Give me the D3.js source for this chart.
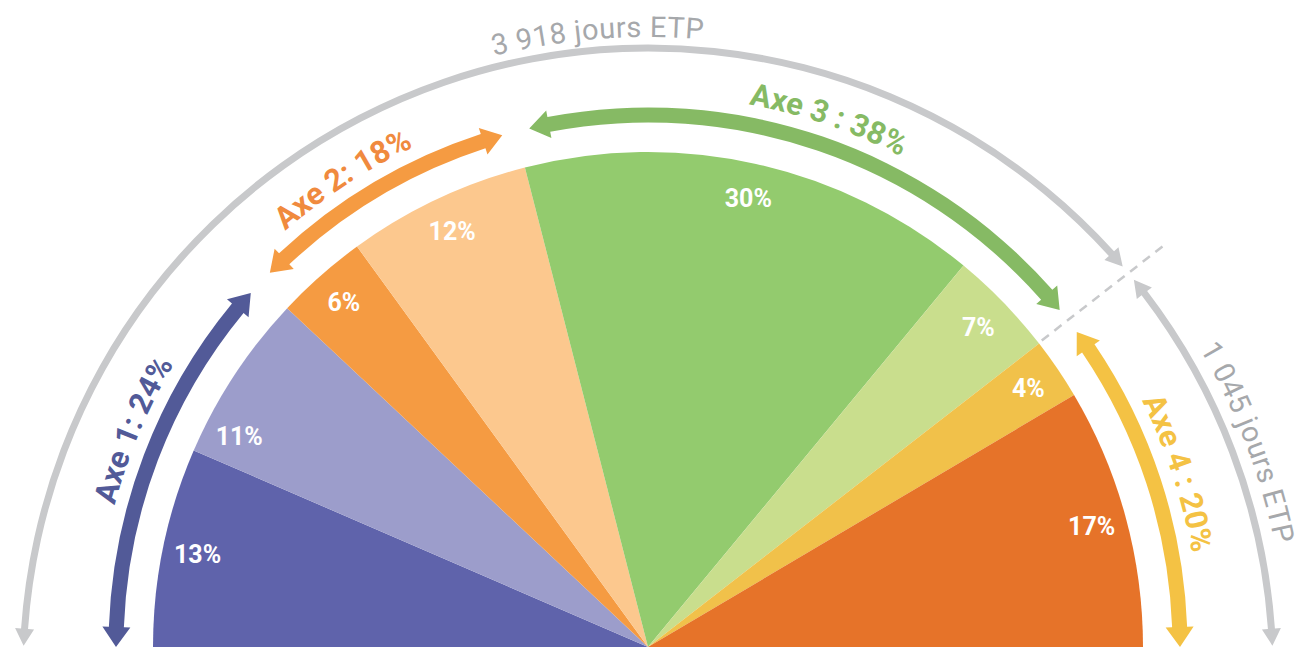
<!DOCTYPE html>
<html>
<head>
<meta charset="utf-8">
<script src="https://cdn.jsdelivr.net/npm/d3@7"></script>
<style>
  body { margin: 0; background: #fff; }
  svg { display: block; font-family: "Roboto", "DejaVu Sans", sans-serif; }
</style>
</head>
<body>
<div id="main"></div>
<script>
const ctx = { w: 1306, h: 648 };

// parts of the half pie (%)
const sliceValues = [13, 11, 6, 12, 30, 7, 4, 17];
const sliceLabels = ["13%", "11%", "6%", "12%", "30%", "7%", "4%", "17%"];
const sliceColors = ["#5f63ab", "#9c9dcb", "#f59b42", "#fcc88e", "#93cb6e", "#c9de8d", "#f1c14a", "#e67329"];

// axes : how many slices each one groups
const axeSlices = [2, 2, 2, 2];
const axeLabels = ["Axe 1: 24%", "Axe 2: 18%", "Axe 3 : 38%", "Axe 4 : 20%"];
const axeColors = ["#525a98", "#f59b42", "#86ba64", "#f4c244"];
const axeTextColors = ["#525a98", "#f08a3e", "#86ba64", "#f4c244"];

// outer grey arcs
const etpDays = [3918, 1045];
const etpLabels = ["3 918 jours ETP", "1 045 jours ETP"];

const deg = Math.PI / 180;
const center = { x: 648, y: 647 };
const greyCenter = { x: 648, y: 673 };
const rPie = 495, rAxe = 532, rGrey = 625;

// small hand placed shifts of some labels (degrees)
const sliceLabelShift = { 1: -6 };
const axeLabelShift = { 0: 2, 1: -2.5 };

function polar(c, r, a) {
    return [c.x + r * Math.sin(a), c.y - r * Math.cos(a)];
}

// arc band with arrow heads at both ends (a0 < a1, angles 0 = top, clockwise)
function arrowPath(c, r, a0, a1, w, headW, headL) {
    const b0 = a0 + headL / r, b1 = a1 - headL / r;
    const p = d3.path();
    const o0 = polar(c, r + w / 2, b0);
    p.moveTo(o0[0], o0[1]);
    p.arc(c.x, c.y, r + w / 2, b0 - Math.PI / 2, b1 - Math.PI / 2);
    [polar(c, r + headW / 2, b1), polar(c, r, a1), polar(c, r - headW / 2, b1), polar(c, r - w / 2, b1)]
        .forEach(q => p.lineTo(q[0], q[1]));
    p.arc(c.x, c.y, r - w / 2, b1 - Math.PI / 2, b0 - Math.PI / 2, true);
    [polar(c, r - headW / 2, b0), polar(c, r, a0), polar(c, r + headW / 2, b0)]
        .forEach(q => p.lineTo(q[0], q[1]));
    p.closePath();
    return p.toString();
}

// clockwise circle arc used as text path
function textArc(c, r, mid, span) {
    const p = d3.path();
    const s = polar(c, r, mid - span);
    p.moveTo(s[0], s[1]);
    p.arc(c.x, c.y, r, mid - span - Math.PI / 2, mid + span - Math.PI / 2);
    return p.toString();
}

function createViz() {
    const svgEl = d3.select("#main").append("svg")
        .attr("width", ctx.w)
        .attr("height", ctx.h);
    const defs = svgEl.append("defs");

    const total = d3.sum(sliceValues);
    const angle = d3.scaleLinear().domain([0, total]).range([-Math.PI / 2, Math.PI / 2]);

    // half pie
    const pie = d3.pie().sort(null).startAngle(-Math.PI / 2).endAngle(Math.PI / 2);
    const arc = d3.arc().innerRadius(0).outerRadius(rPie);
    const arcs = pie(sliceValues);
    const midAngle = (d, i) => (d.startAngle + d.endAngle) / 2 + (sliceLabelShift[i] || 0) * deg;
    const gPie = svgEl.append("g").attr("transform", `translate(${center.x},${center.y})`);
    gPie.selectAll("path")
        .data(arcs)
        .enter().append("path")
        .attr("d", arc)
        .attr("fill", (d, i) => sliceColors[i]);
    gPie.selectAll("text")
        .data(arcs)
        .enter().append("text")
        .attr("x", (d, i) => 460 * Math.sin(midAngle(d, i)))
        .attr("y", (d, i) => -460 * Math.cos(midAngle(d, i)))
        .attr("text-anchor", "middle")
        .attr("dy", "0.36em")
        .style("font-size", "25px")
        .style("font-weight", 700)
        .style("fill", "#fff")
        .text((d, i) => sliceLabels[i]);

    // axes arrows
    const gap = 1.5 * deg;
    let cum = 0, idx = 0;
    const axes = axeSlices.map((n, i) => {
        const v0 = cum;
        cum += d3.sum(sliceValues.slice(idx, idx + n));
        idx += n;
        const a0 = i === 0 ? angle(v0) : angle(v0) + gap;
        const a1 = i === axeSlices.length - 1 ? angle(cum) : angle(cum) - gap;
        return { a0, a1, label: axeLabels[i], color: axeColors[i], textColor: axeTextColors[i] };
    });

    svgEl.append("g").selectAll("path")
        .data(axes)
        .enter().append("path")
        .attr("d", d => arrowPath(center, rAxe, d.a0, d.a1, 15, 28, 20))
        .attr("fill", d => d.color);

    axes.forEach((d, i) => {
        const mid = (d.a0 + d.a1) / 2 + (axeLabelShift[i] || 0) * deg;
        defs.append("path")
            .attr("id", "axePath" + i)
            .attr("d", textArc(center, 552, mid, 60 * deg));
    });
    svgEl.append("g").selectAll("text")
        .data(axes)
        .enter().append("text")
        .style("font-size", "31px")
        .style("font-weight", 700)
        .style("fill", d => d.textColor)
        .append("textPath")
        .attr("href", (d, i) => "#axePath" + i)
        .attr("startOffset", "50%")
        .attr("text-anchor", "middle")
        .text(d => d.label);

    // split between the two grey arcs, on the pie's radius
    const etpAngle = d3.scaleLinear().domain([0, d3.sum(etpDays)]).range([-Math.PI / 2, Math.PI / 2]);
    const split = etpAngle(etpDays[0]);
    const dy = center.y - greyCenter.y;
    const t = dy * Math.cos(split) + Math.sqrt(dy * dy * Math.cos(split) ** 2 - dy * dy + rGrey * rGrey);
    const sp = polar(center, t, split);
    const greySplit = Math.atan2(sp[0] - greyCenter.x, greyCenter.y - sp[1]);

    const grey = [
        { a0: -87.5 * deg, a1: greySplit - 0.8 * deg, label: etpLabels[0], textAngle: -4.5 * deg, r: 636 },
        { a0: greySplit + 0.8 * deg, a1: 87.5 * deg, label: etpLabels[1], textAngle: 69 * deg, r: 640 }
    ];
    svgEl.append("g").selectAll("path")
        .data(grey)
        .enter().append("path")
        .attr("d", d => arrowPath(greyCenter, rGrey, d.a0, d.a1, 7, 19, 17))
        .attr("fill", "#c8c9cb");

    // dashed separator
    const d0 = polar(center, 499, split), d1 = polar(center, 652, split);
    svgEl.append("line")
        .attr("x1", d0[0]).attr("y1", d0[1])
        .attr("x2", d1[0]).attr("y2", d1[1])
        .attr("stroke", "#c8c9cb")
        .attr("stroke-width", 2.5)
        .attr("stroke-dasharray", "9,7");

    grey.forEach((d, i) => {
        defs.append("path")
            .attr("id", "etpPath" + i)
            .attr("d", textArc(greyCenter, d.r, d.textAngle, 50 * deg));
    });
    svgEl.append("g").selectAll("text")
        .data(grey)
        .enter().append("text")
        .style("font-size", "29px")
        .style("font-weight", 400)
        .style("letter-spacing", "0.5px")
        .style("fill", "#a6a8ab")
        .append("textPath")
        .attr("href", (d, i) => "#etpPath" + i)
        .attr("startOffset", "50%")
        .attr("text-anchor", "middle")
        .text(d => d.label);
}

createViz();
</script>
</body>
</html>
